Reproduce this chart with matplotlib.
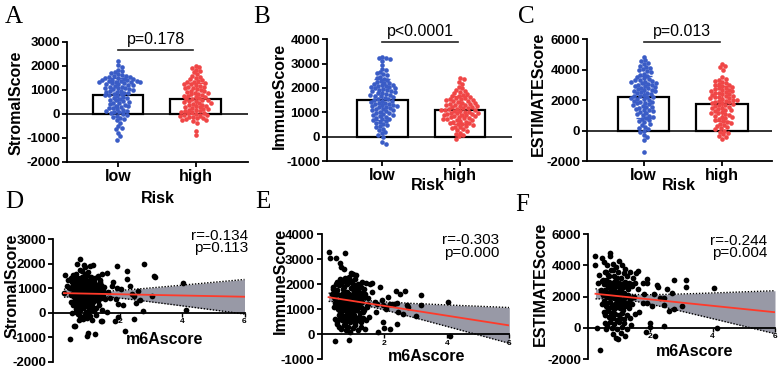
import numpy as np
import matplotlib
matplotlib.use("Agg")
import matplotlib.pyplot as plt

plt.rcParams['font.family'] = ['Liberation Sans', 'DejaVu Sans']
plt.rcParams['axes.unicode_minus'] = False

W, H = 778, 368

# ---------------- data ----------------
risk_groups = ['low', 'high']

stromal_low = [2180, 2010, 1960, 1820, 1760, 1720, 1680, 1640, 1600, 1580, 1560, 1540, 1520,
               1490, 1470, 1450, 1440, 1420, 1400, 1390, 1370, 1360, 1350, 1340, 1320, 1310, 1300,
               1280, 1260, 1240, 1220, 1200, 1180, 1160, 1130, 1110, 1090, 1070, 1050, 1030, 1010,
               990, 960, 940, 920, 890, 870, 850, 830, 800, 780, 760, 720, 690, 660, 640, 610, 580,
               550, 520, 490, 460, 430, 400, 370, 340, 310, 280, 250, 220, 190, 160, 130, 110, 80,
               50, 20, -10, -40, -80, -120, -180, -220, -280, -380, -520, -580, -650, -800, -950, -1080]
stromal_high = [2000, 1960, 1900, 1840, 1780, 1720, 1640, 1580, 1520, 1480, 1440, 1400, 1360, 1330,
                1310, 1280, 1250, 1220, 1190, 1160, 1130, 1110, 1080, 1050, 1020, 990, 960, 930, 910,
                880, 860, 830, 800, 780, 750, 730, 710, 680, 650, 630, 600, 570, 550, 530, 510,
                480, 460, 430, 410, 380, 350, 330, 310, 280, 260, 240, 210, 190, 170, 140, 120, 100,
                80, 60, 30, 10, -20, -40, -60, -80, -90, -120, -150, -170, -200, -220, -250, -270,
                -290, -380, -720, -880]

immune_low = [3290, 3250, 3220, 3180, 3120, 2950, 2780, 2720, 2650, 2600, 2560, 2520, 2460, 2420,
              2380, 2330, 2280, 2250, 2220, 2190, 2160, 2130, 2110, 2090, 2070, 2050, 2030, 2000,
              1980, 1960, 1930, 1910, 1880, 1860, 1830, 1800, 1780, 1750, 1730, 1710, 1680, 1650,
              1620, 1590, 1560, 1530, 1510, 1480, 1460, 1430, 1400, 1380, 1350, 1330, 1310, 1290,
              1270, 1250, 1220, 1200, 1180, 1150, 1130, 1110, 1080, 1050, 1020, 990, 960, 930, 910,
              880, 850, 810, 780, 740, 710, 680, 640, 600, 560, 520, 480, 430, 380, 330, 270, 200,
              130, 60, -20, -220, -290]
immune_high = [2400, 2350, 2250, 2150, 2050, 1980, 1920, 1880, 1830, 1790, 1750, 1710, 1680, 1650,
               1620, 1600, 1570, 1550, 1530, 1510, 1490, 1470, 1450, 1430, 1400, 1380, 1360, 1340,
               1320, 1300, 1290, 1270, 1250, 1230, 1210, 1190, 1170, 1150, 1130, 1110, 1100, 1090,
               1070, 1050, 1030, 1010, 990, 970, 960, 940, 930, 910, 900, 880, 860, 840, 820, 800,
               780, 760, 740, 720, 700, 680, 650, 620, 600, 570, 550, 530, 510, 480, 450, 410, 380,
               340, 310, 270, 220, 170, 120, 60, 10, -80]

estimate_low = [4850, 4620, 4580, 4450, 4350, 4250, 4150, 4100, 4020, 3960, 3900, 3830, 3750, 3680,
                3600, 3520, 3450, 3380, 3340, 3300, 3260, 3220, 3180, 3140, 3100, 3060, 3020, 2980,
                2940, 2900, 2860, 2820, 2780, 2740, 2700, 2660, 2620, 2580, 2540, 2500, 2450, 2400,
                2350, 2300, 2260, 2220, 2180, 2140, 2100, 2050, 2000, 1950, 1900, 1860, 1820, 1780,
                1730, 1680, 1630, 1580, 1530, 1480, 1430, 1380, 1320, 1260, 1200, 1140, 1080, 1020,
                980, 910, 840, 770, 700, 630, 560, 460, 360, 260, 170, 80, -20, -120, -300, -450,
                -650, -1420]
estimate_high = [4380, 4220, 4150, 3950, 3500, 3420, 3350, 3280, 3200, 3130, 3070, 3010, 2970, 2920,
                 2870, 2820, 2780, 2730, 2690, 2650, 2610, 2580, 2540, 2500, 2460, 2420, 2380, 2340,
                 2300, 2260, 2220, 2180, 2140, 2110, 2070, 2030, 2000, 1960, 1920, 1890, 1850, 1810,
                 1780, 1740, 1690, 1650, 1600, 1560, 1510, 1470, 1420, 1380, 1330, 1280, 1230, 1180,
                 1130, 1080, 1030, 980, 920, 860, 800, 740, 680, 620, 570, 500, 430, 360, 290, 220,
                 160, 80, 0, -80, -150, -250, -340, -430, -560]

# scatter D: m6Ascore vs StromalScore
m6a_d = [0.26, 0.22, 0.42, 0.55, 0.58, 0.47, 0.95, 0.98, 1.22, 0.74,
         0.63, 1.16, 0.85, 0.90, 1.05, 0.52, 0.60, 0.68, 0.72, 0.80,
         0.88, 0.95, 1.00, 1.10, 1.20, 1.30, 1.45, 1.38, 0.45, 0.50,
         0.57, 0.62, 0.66, 0.70, 0.75, 0.78, 0.82, 0.86, 0.90, 0.93,
         0.97, 1.02, 1.06, 1.12, 1.18, 1.25, 1.33, 1.42, 1.50, 0.40,
         0.48, 0.53, 0.58, 0.64, 0.69, 0.73, 0.77, 0.81, 0.85, 0.88,
         0.92, 0.96, 1.00, 1.04, 1.08, 1.14, 1.20, 1.28, 1.36, 1.48,
         0.44, 0.50, 0.55, 0.60, 0.65, 0.70, 0.74, 0.79, 0.83, 0.87,
         0.91, 0.95, 0.99, 1.03, 1.09, 1.15, 1.22, 1.30, 1.40, 1.55,
         0.46, 0.52, 0.57, 0.62, 0.67, 0.72, 0.76, 0.80, 0.84, 0.89,
         0.93, 0.98, 1.02, 1.07, 1.13, 1.19, 1.26, 1.35, 1.45, 0.60,
         0.68, 0.75, 0.82, 0.88, 0.95, 1.05, 1.12, 1.25, 1.40, 0.70,
         1.00, 3.09, 3.13, 2.77, 2.23, 2.23, 1.91, 1.91, 2.39, 2.45,
         3.03, 2.66, 2.75, 2.45, 1.96, 1.84, 2.18, 1.96, 4.03, 4.13,
         1.59, 1.43, 1.61, 1.70, 1.75,
         0.32, 0.36, 0.41, 0.49, 0.54, 0.59, 0.63, 0.67, 0.71, 0.76,
         0.79, 0.83, 0.87, 0.91, 0.94, 0.99, 1.03, 1.07, 1.11, 1.16,
         1.21, 1.27, 1.32, 1.39, 1.47,
         1.62, 1.78, 1.88, 2.05, 2.12, 2.32, 2.52, 2.60]
stromal_d = [1560, 800, -1080, -560, -530, 0, -940, -810, -870, 2200,
             2000, 1960, 1950, 1880, 1900, 1550, 1600, 1420, 1750, 1700,
             1600, 1550, 1650, 1480, 1420, 1500, 1600, 1350, 1420, 1320,
             1220, 1250, 1350, 1180, 1300, 1050, 1400, 1250, 1100, 1320,
             1200, 1050, 1350, 1150, 1250, 1100, 1000, 1150, 1050, 1020,
             1070, 970, 1120, 800, 950, 880, 760, 920, 820, 980,
             700, 880, 780, 950, 820, 900, 760, 880, 800, 700,
             720, 820, 640, 770, 480, 600, 420, 560, 640, 470,
             580, 400, 620, 500, 650, 430, 560, 480, 600, 550,
             420, 320, 470, 150, 300, 100, 250, 380, 180, 300,
             50, 220, 330, 120, 260, 60, 200, 330, 100, 20,
             -50, -150, -250, -80, -200, -120, -300, -100, -350, -300,
             -20, 1490, 1450, 1990, 1720, 1360, 1890, 1020, 750, 680,
             680, 510, 70, -260, -170, -330, -740, 340, 1220, 110,
             30, -330, 1630, 600, 1100,
             1100, 1350, 1000, 1250, 900, 1400, 1050, 1300, 950, 1150,
             1450, 850, 1200, 1000, 1350, 900, 1150, 1050, 800, 1300,
             950, 1150, 700, 1250, 900,
             850, 1250, 550, 950, 300, 1100, 400, 900]

# scatter E: m6Ascore vs ImmuneScore
m6a_e = [0.22, 0.26, 0.46, 0.57, 0.75, 0.62, 0.70, 0.43, 0.86,
         1.42, 1.60, 1.55, 1.81, 1.97, 1.99, 2.19, 1.92, 1.95, 2.20,
         2.40, 2.37, 2.67, 2.45, 2.40, 2.72, 2.77, 3.02, 3.18, 3.18,
         4.03, 4.10, 1.70, 1.75, 2.05,
         0.35, 0.40, 0.45, 0.50, 0.55, 0.58, 0.62, 0.66, 0.70, 0.74, 0.78,
         0.82, 0.86, 0.90, 0.95, 1.00, 1.05, 1.10, 1.15, 1.20, 1.28, 1.35,
         0.38, 0.44, 0.50, 0.55, 0.60, 0.64, 0.68, 0.72, 0.76, 0.80, 0.84, 0.88,
         0.92, 0.96, 1.00, 1.04, 1.08, 1.12, 1.17, 1.22, 1.30, 1.38, 1.48,
         0.40, 0.46, 0.52, 0.56, 0.60, 0.64, 0.68, 0.72, 0.76, 0.80, 0.84, 0.88,
         0.92, 0.96, 1.00, 1.04, 1.08, 1.12, 1.17, 1.22, 1.28, 1.35, 1.45,
         0.42, 0.48, 0.54, 0.58, 0.62, 0.66, 0.70, 0.74, 0.78, 0.82, 0.86, 0.90,
         0.94, 0.98, 1.02, 1.06, 1.10, 1.15, 1.20, 1.27, 1.33, 1.42, 1.50,
         0.55, 0.62, 0.70, 0.78, 0.85, 0.92, 1.00, 1.08, 1.16, 1.25, 1.38, 0.48,
         0.32, 0.36, 0.41, 0.49, 0.54, 0.59, 0.63, 0.67, 0.71, 0.76,
         0.79, 0.83, 0.87, 0.91, 0.94, 0.99, 1.03, 1.07, 1.11, 1.16,
         1.21, 1.27, 1.32, 1.39, 1.47,
         1.62, 1.78, 1.88, 2.05, 2.12, 2.32, 2.52, 2.60,
         1.00, 1.05, 1.10, 1.15, 1.20, 1.25, 0.98, 1.30]
immune_e = [3290, 3040, 3050, 2860, 3250, 2680, 2600, -290, -240,
            2050, 2050, 2000, 90, 490, 250, 200, 1360, 1160, 1200,
            1230, 1720, 1720, 870, 390, 1160, 1090, 730, 1560, 1180,
            1290, -80, 1300, 900, 1100,
            1800, 1700, 2000, 2100, 1950, 2200, 2050, 2150, 1900, 2250, 2100,
            2000, 2300, 2150, 2450, 2400, 2200, 2350, 2000, 1900, 2100, 1800,
            1500, 1400, 1600, 1300, 1550, 1450, 1650, 1350, 1500, 1700, 1400, 1600,
            1300, 1550, 1450, 1700, 1350, 1550, 1400, 1600, 1300, 1500, 1450,
            1100, 1200, 1000, 1150, 900, 1250, 1050, 950, 1200, 1100, 900, 1250,
            1050, 850, 1150, 1000, 1200, 950, 1100, 850, 1050, 950, 1100,
            600, 500, 750, 650, 800, 550, 700, 450, 750, 600, 800, 500,
            700, 600, 750, 450, 650, 550, 700, 500, 650, 550, 700,
            300, 200, 350, 150, 300, 100, 250, 350, 150, 300, 200, 400,
            1600, 1900, 1250, 1750, 1100, 2000, 1400, 1800, 1200, 1650,
            2100, 1000, 1500, 1300, 1850, 1150, 1550, 1350, 950, 1700,
            1250, 1450, 900, 1600, 1200,
            1700, 1200, 1900, 1000, 1500, 1200, 1600, 800,
            1800, 1950, 1750, 1850, 1700, 1900, 2050, 1650]

# scatter F: m6Ascore vs ESTIMATEScore
m6a_f = [0.24, 0.24, 0.45, 0.70, 0.72, 0.40, 0.28, 0.58, 0.91, 0.96,
         1.20, 1.60, 1.90, 1.55, 2.21, 2.25, 2.75, 3.14, 3.14, 2.69,
         2.43, 2.43, 2.75, 3.03, 1.90, 2.00, 2.00, 1.85, 2.16, 2.43,
         4.03, 4.13, 1.75, 1.80, 1.65,
         0.50, 0.60, 0.80, 0.90, 1.00, 1.10, 1.20, 0.55, 0.65, 0.75, 0.85,
         0.95, 1.05, 1.15, 1.25, 1.35, 1.45,
         0.45, 0.52, 0.58, 0.63, 0.68, 0.73, 0.78, 0.83, 0.88, 0.93,
         0.98, 1.03, 1.08, 1.13, 1.18, 1.24, 1.30, 1.40, 1.50,
         0.42, 0.48, 0.54, 0.60, 0.65, 0.70, 0.75, 0.80, 0.85, 0.90,
         0.95, 1.00, 1.05, 1.10, 1.15, 1.20, 1.27, 1.35, 1.45,
         0.45, 0.52, 0.57, 0.62, 0.67, 0.72, 0.77, 0.82, 0.87, 0.92,
         0.97, 1.02, 1.07, 1.12, 1.18, 1.25, 1.32, 1.42,
         0.50, 0.56, 0.62, 0.68, 0.74, 0.80, 0.86, 0.92, 0.98, 1.04,
         1.10, 1.17, 1.25, 1.35, 1.50,
         0.55, 0.62, 0.70, 0.78, 0.85, 0.93, 1.00, 1.08, 1.16, 1.25,
         1.38, 0.80, 1.05,
         0.32, 0.36, 0.41, 0.49, 0.54, 0.59, 0.63, 0.67, 0.71, 0.76,
         0.79, 0.83, 0.87, 0.91, 0.94, 0.99, 1.03, 1.07, 1.11, 1.16,
         1.21, 1.27, 1.32, 1.39, 1.47,
         1.62, 1.78, 1.88, 2.05, 2.12, 2.32, 2.52, 2.60]
estimate_f = [4610, 4030, 4500, 4820, 4620, -1430, 0, -100, -640, -700,
              -550, 3640, 3130, 3500, 2740, 2600, 3070, 3070, 2640, 2250,
              1890, 1460, 1220, 1430, 1570, 280, 60, -270, -510, 130,
              2530, 20, 2900, 2200, 1000,
              4200, 4000, 4100, 3900, 4300, 4000, 3800, 3600, 3400, 3700, 3300,
              3600, 3200, 3500, 3300, 3600, 3200,
              3000, 2800, 3100, 2700, 2950, 2600, 2850, 2500, 3000, 2700,
              2900, 2550, 2800, 2600, 2950, 2650, 2850, 2700, 2900,
              2300, 2100, 2400, 2000, 2250, 1900, 2350, 2050, 2200, 1850,
              2300, 2000, 2150, 1800, 2250, 1950, 2100, 1850, 2000,
              1500, 1700, 1400, 1600, 1300, 1650, 1450, 1200, 1550, 1350,
              1650, 1250, 1500, 1150, 1400, 1600, 1300, 1500,
              1000, 800, 1100, 700, 950, 600, 900, 500, 850, 650,
              950, 550, 800, 600, 900,
              300, 100, 400, 0, 250, -100, 350, 50, 300, -50,
              200, -400, -300,
              2900, 3400, 2400, 3100, 2100, 3600, 2600, 3300, 2300, 2800,
              3700, 1900, 2700, 2200, 3200, 2000, 2600, 2400, 1700, 2900,
              2100, 2500, 1500, 2800, 2000,
              2500, 1600, 2900, 1400, 2200, 1900, 2500, 1100]

p_texts = ['p=0.178', 'p<0.0001', 'p=0.013']
r_texts = ['r=-0.134\np=0.113', 'r=-0.303\np=0.000', 'r=-0.244\np=0.004']

# ---------------- drawing ----------------
fig = plt.figure(figsize=(W / 100, H / 100), dpi=100)


def add_ax(l, t, r, b):
    return fig.add_axes([l / W, 1 - b / H, (r - l) / W, (b - t) / H])


def ftext(x, y, s, **kw):
    fig.text(x / W, 1 - y / H, s, **kw)


BLUE = '#3a5cc6'
RED = '#f04646'
LW = 1.3


def style_y(ax, yticks):
    ax.set_yticks(yticks)
    ax.set_yticklabels([str(v) for v in yticks], fontweight='bold', fontsize=9.5)
    ax.tick_params(axis='y', length=3.5, width=LW, pad=1.5)
    for s in ['top', 'right']:
        ax.spines[s].set_visible(False)
    for s in ['left', 'bottom']:
        ax.spines[s].set_linewidth(LW)


def swarm_offsets(ax, center, vals, d):
    vals = np.asarray(vals, float)
    pts = ax.transData.transform(np.column_stack([np.full(len(vals), center), vals]))
    ypix = pts[:, 1]
    ppu = ax.transData.transform((center + 1, 0))[0] - ax.transData.transform((center, 0))[0]
    order = np.argsort(-vals)
    px, py = [], []
    offs = np.zeros(len(vals))
    for i in order:
        y = ypix[i]
        cands = [0.0]
        for a, b in zip(px, py):
            dy = abs(y - b)
            if dy < d:
                dx = np.sqrt(d * d - dy * dy)
                cands += [a + dx, a - dx]
        cands.sort(key=abs)
        for c in cands:
            ok = True
            for a, b in zip(px, py):
                if (c - a) ** 2 + (y - b) ** 2 < d * d * 0.995:
                    ok = False
                    break
            if ok:
                offs[i] = c
                break
        px.append(offs[i])
        py.append(y)
    return center + offs / ppu


def bar_panel(box, xlim, ylim, yticks, low, high, ptext, p_y):
    ax = add_ax(*box)
    ax.set_xlim(xlim)
    ax.set_ylim(ylim)
    style_y(ax, yticks)
    ax.set_xticks([0, 1])
    ax.set_xticklabels(risk_groups, fontweight='bold', fontsize=11.5)
    ax.tick_params(axis='x', length=3.5, width=LW, pad=1.5)
    ax.axhline(0, color='#222222', lw=LW, zorder=1)
    data = [low, high]
    cols = [BLUE, RED]
    means = [np.mean(v) for v in data]
    sds = [np.std(v, ddof=1) for v in data]
    ax.bar([0, 1], means, width=0.65, facecolor='white', edgecolor='black',
           linewidth=1.6, zorder=2)
    for k, (v, c) in enumerate(zip(data, cols)):
        xs = swarm_offsets(ax, k, v, 3.9)
        ax.scatter(xs, v, s=11, color=c, linewidths=0, zorder=3, clip_on=False)
        ax.errorbar([k], [means[k]], yerr=[sds[k]], fmt='none', ecolor=c,
                    elinewidth=1.0, capsize=6, capthick=1.0, zorder=4)
    ax.plot([0, 0.97], [p_y, p_y], color='#222222', lw=1.2, clip_on=False)
    ax.annotate(ptext, (0.485, p_y), xytext=(0, 2.5), textcoords='offset points',
                ha='center', va='bottom', fontsize=11.5, annotation_clip=False)
    return ax


def scatter_panel(box, xlim, ylim, yticks, x, y, rt, rt_pos):
    ax = add_ax(*box)
    ax.set_xlim(xlim)
    ax.set_ylim(ylim)
    style_y(ax, yticks)
    ax.spines['bottom'].set_position(('data', 0))
    ax.set_xticks([2, 4, 6])
    ax.set_xticklabels(['2', '4', '6'], fontweight='bold', fontsize=6)
    ax.tick_params(axis='x', length=3, width=1.0, pad=1)
    x = np.asarray(x, float)
    y = np.asarray(y, float)
    slope, icpt = np.polyfit(x, y, 1)
    n = len(x)
    xm = x.mean()
    sxx = np.sum((x - xm) ** 2)
    s = np.sqrt(np.sum((y - (icpt + slope * x)) ** 2) / (n - 2))
    xs = np.linspace(x.min(), xlim[1], 300)
    yh = icpt + slope * xs
    half = 1.975 * s * np.sqrt(1.0 / n + (xs - xm) ** 2 / sxx)
    ax.fill_between(xs, yh - half, yh + half, color='#9899a6', lw=0, zorder=1)
    ax.plot(xs, yh + half, color='black', lw=1.0, ls=(0, (1, 1.2)), zorder=2)
    ax.plot(xs, yh - half, color='black', lw=1.0, ls=(0, (1, 1.2)), zorder=2)
    ax.scatter(x, y, s=17, color='black', linewidths=0, zorder=3)
    ax.plot(xs, yh, color='#ff3a2a', lw=1.3, zorder=4)
    rx, ry = rt_pos
    ftext(rx, ry, rt, ha='right', va='center', fontsize=11, linespacing=0.85)
    return ax


# top row
bar_panel((67, 41.7, 248, 161.7), (-0.658, 1.677), (-2000, 3000),
          [3000, 2000, 1000, 0, -1000, -2000], stromal_low, stromal_high, p_texts[0], 2654)
bar_panel((327, 39.3, 512, 161), (-0.716, 1.671), (-1000, 4000),
          [4000, 3000, 2000, 1000, 0, -1000], immune_low, immune_high, p_texts[1], 3880)
bar_panel((587, 39.3, 772, 161), (-0.72, 1.637), (-2000, 6000),
          [6000, 4000, 2000, 0, -2000], estimate_low, estimate_high, p_texts[2], 5800)

# bottom row
scatter_panel((53.3, 239.3, 244.5, 361.7), (-0.12, 6), (-2000, 3000),
              [3000, 2000, 1000, 0, -1000, -2000], m6a_d, stromal_d, r_texts[0], (248, 242))
scatter_panel((321.7, 234.3, 509.3, 359), (0, 6), (-1000, 4000),
              [4000, 3000, 2000, 1000, 0, -1000], m6a_e, immune_e, r_texts[1], (499, 246.5))
scatter_panel((588, 234.3, 775, 359), (0, 6), (-2000, 6000),
              [6000, 4000, 2000, 0, -2000], m6a_f, estimate_f, r_texts[2], (767, 247))

# axis labels
bold = dict(fontweight='bold', fontsize=11.5, ha='center', va='center')
ftext(16, 102.5, 'StromalScore', rotation=90, **bold)
ftext(279.5, 96, 'ImmuneScore', rotation=90, **bold)
ftext(538.5, 94, 'ESTIMATEScore', rotation=90, **bold)
ftext(11.7, 286, 'StromalScore', rotation=90, **bold)
ftext(280, 281, 'ImmuneScore', rotation=90, **bold)
ftext(540.5, 284, 'ESTIMATEScore', rotation=90, **bold)

ftext(158, 198.5, 'Risk', **bold)
ftext(428, 186, 'Risk', **bold)
ftext(679, 186, 'Risk', **bold)

ftext(165, 340, 'm6Ascore', **bold)
ftext(426.5, 356.5, 'm6Ascore', **bold)
ftext(695, 351.5, 'm6Ascore', **bold)

# panel letters
lett = dict(fontsize=18, ha='center', va='center', family=['Liberation Serif', 'DejaVu Serif'])
for L, (lx, ly) in zip('ABCDEF', [(14, 17), (262, 17), (526, 17),
                                  (14, 202), (263, 202), (522, 205)]):
    ftext(lx, ly, L, **lett)

fig.savefig('out.png', dpi=100)
